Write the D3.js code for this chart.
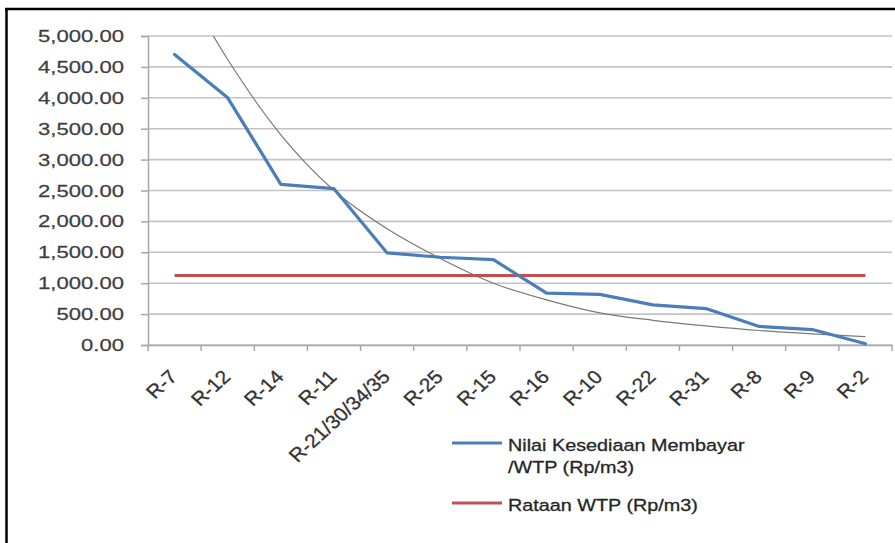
<!DOCTYPE html>
<html><head><meta charset="utf-8">
<script src="https://cdn.jsdelivr.net/npm/d3@7"></script>
<style>
html,body{margin:0;padding:0;background:#fff;}
svg{display:block;}
text{font-family:"Liberation Sans",Arial,sans-serif;}
</style></head>
<body>
<svg id="chart" width="895" height="543"></svg>
<script>
// ---- data ----
const categories = ["R-7","R-12","R-14","R-11","R-21/30/34/35","R-25","R-15","R-16","R-10","R-22","R-31","R-8","R-9","R-2"];
const wtpValues  = [4700,4000,2600,2530,1490,1420,1380,840,820,650,590,300,250,20];
const meanWtp    = [1125,1125,1125,1125,1125,1125,1125,1125,1125,1125,1125,1125,1125,1125];
const trendValues= [6100,4620,3400,2500,1880,1400,1000,730,520,400,310,235,180,135];
const yTicks     = [0,500,1000,1500,2000,2500,3000,3500,4000,4500,5000];
const seriesNames= ["Nilai Kesediaan Membayar /WTP (Rp/m3)","Rataan WTP (Rp/m3)"];

const svg = d3.select("#chart");
const L = 148, R = 892, T = 36, B = 345;
const x = d3.scaleBand().domain(categories).range([L, R]).padding(0);
const y = d3.scaleLinear().domain([0, 5000]).range([B, T]);
const cx = d => x(d) + x.bandwidth()/2;

svg.append("rect").attr("width",895).attr("height",543).attr("fill","#fff");

// gridlines
svg.append("g").selectAll("line").data(yTicks).join("line")
  .attr("x1", L).attr("x2", 892).attr("y1", d=>y(d)).attr("y2", d=>y(d))
  .attr("stroke","#c4c4c4").attr("stroke-width",1.6);

// y axis
const yAxis = svg.append("g").attr("transform",`translate(${L},0)`)
  .call(d3.axisLeft(y).tickValues(yTicks).tickSize(7).tickPadding(0).tickFormat(()=>""));
yAxis.select(".domain").attr("stroke","#a8a8a8").attr("stroke-width",1.5);
yAxis.selectAll(".tick line").attr("stroke","#a8a8a8").attr("stroke-width",1.5);
const fmt = d3.format(",.2f");
svg.append("g").selectAll("text").data(yTicks).join("text")
  .attr("transform", d=>`translate(124,${y(d)+6}) scale(1.3,1)`)
  .attr("text-anchor","end").attr("font-size",17).attr("fill","#3f3f3f")
  .attr("stroke","#3f3f3f").attr("stroke-width",0.25)
  .text(d=>fmt(d));

// x axis
const xAxis = svg.append("g").attr("transform",`translate(0,${B})`)
  .call(d3.axisBottom(x).tickSize(0).tickFormat(()=>""));
xAxis.select(".domain").attr("stroke","#a8a8a8").attr("stroke-width",1.5);
const bounds = categories.map(c=>x(c)).concat([R]);
svg.append("g").selectAll("line").data(bounds).join("line")
  .attr("x1",d=>d).attr("x2",d=>d).attr("y1",B).attr("y2",B+6)
  .attr("stroke","#a8a8a8").attr("stroke-width",1.5);
svg.append("g").selectAll("text").data(categories).join("text")
  .attr("transform", d=>`translate(${cx(d)+4},${B+33}) scale(1.1,1) rotate(-45)`)
  .attr("text-anchor","end").attr("font-size",19).attr("fill","#333")
  .attr("stroke","#333").attr("stroke-width",0.3)
  .text(d=>d);

// clip
svg.append("clipPath").attr("id","plotclip").append("rect")
  .attr("x",L).attr("y",T).attr("width",R-L).attr("height",B-T+5);

const line = d3.line().x((d,i)=>cx(categories[i])).y(d=>y(d));

// trend line
svg.append("path").datum(trendValues)
  .attr("clip-path","url(#plotclip)")
  .attr("d", d3.line().x((d,i)=>cx(categories[i])).y(d=>y(d)).curve(d3.curveMonotoneX))
  .attr("fill","none").attr("stroke","#7a7a7a").attr("stroke-width",1.2);

// mean line
svg.append("path").datum(meanWtp).attr("d", line)
  .attr("fill","none").attr("stroke","#C0504D").attr("stroke-width",3.2);

// wtp line
svg.append("path").datum(wtpValues).attr("d", line)
  .attr("fill","none").attr("stroke","#4A7EBB").attr("stroke-width",3.2)
  .attr("stroke-linejoin","round").attr("stroke-linecap","round");

// legend
const lg = svg.append("g");
lg.append("line").attr("x1",452).attr("x2",502).attr("y1",443).attr("y2",443)
  .attr("stroke","#4A7EBB").attr("stroke-width",3);
lg.append("line").attr("x1",452).attr("x2",502).attr("y1",503).attr("y2",503)
  .attr("stroke","#C0504D").attr("stroke-width",3);
const t1 = lg.append("text").attr("transform","translate(508,451) scale(1.2,1)")
  .attr("font-size",16.5).attr("fill","#262626").attr("stroke","#262626").attr("stroke-width",0.3);
t1.append("tspan").attr("x",0).attr("dy",0).text("Nilai Kesediaan Membayar");
t1.append("tspan").attr("x",0).attr("dy",22).text("/WTP (Rp/m3)");
lg.append("text").attr("transform","translate(508,511) scale(1.2,1)")
  .attr("font-size",16.5).attr("fill","#262626").attr("stroke","#262626").attr("stroke-width",0.3)
  .text(seriesNames[1]);

// frame
svg.append("line").attr("x1",5).attr("x2",895).attr("y1",9).attr("y2",9)
  .attr("stroke","#000").attr("stroke-width",2.5);
svg.append("line").attr("x1",6.5).attr("x2",6.5).attr("y1",8).attr("y2",543)
  .attr("stroke","#000").attr("stroke-width",2.5);
</script>
</body></html>
